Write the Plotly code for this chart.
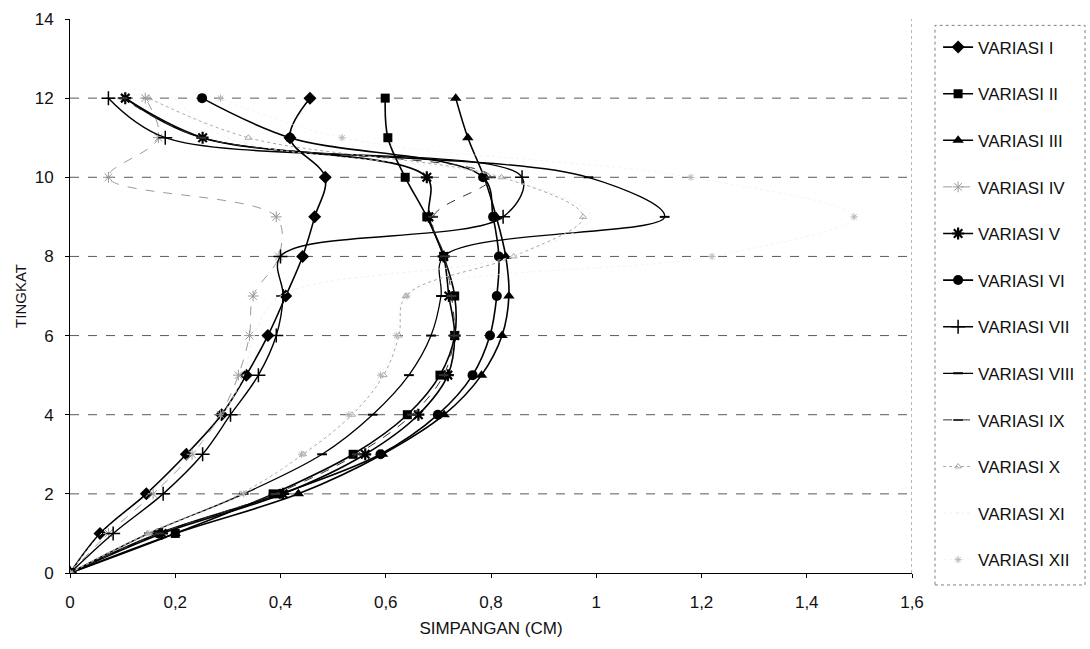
import plotly.graph_objects as go

# Storey levels (TINGKAT) and lateral displacement per variation (SIMPANGAN, cm)
levels = [0, 1, 2, 3, 4, 5, 6, 7, 8, 9, 10, 11, 12]

var_i = [0, 0.057, 0.145, 0.221, 0.288, 0.335, 0.376, 0.410, 0.442, 0.465, 0.485, 0.418, 0.456]
var_ii = [0, 0.200, 0.386, 0.538, 0.641, 0.703, 0.731, 0.731, 0.710, 0.678, 0.637, 0.604, 0.599]
var_iii = [0, 0.200, 0.434, 0.594, 0.711, 0.782, 0.821, 0.834, 0.828, 0.810, 0.787, 0.756, 0.733]
var_iv = [0, 0.073, 0.158, 0.232, 0.286, 0.320, 0.341, 0.348, 0.397, 0.392, 0.073, 0.168, 0.143]
var_v = [0, 0.175, 0.405, 0.561, 0.662, 0.718, 0.731, 0.720, 0.710, 0.682, 0.678, 0.252, 0.105]
var_vi = [0, 0.168, 0.400, 0.590, 0.699, 0.765, 0.798, 0.811, 0.815, 0.804, 0.785, 0.418, 0.251]
var_vii = [0, 0.082, 0.177, 0.252, 0.305, 0.358, 0.392, 0.405, 0.400, 0.823, 0.859, 0.181, 0.073]
var_viii = [0, 0.150, 0.330, 0.479, 0.575, 0.644, 0.686, 0.705, 0.710, 1.130, 0.985, 0.250, 0.105]
var_ix = [0, 0.170, 0.390, 0.545, 0.650, 0.710, 0.730, 0.725, 0.712, 0.690, 0.800, 0.250, 0.100]
var_x = [0, 0.147, 0.324, 0.443, 0.536, 0.596, 0.625, 0.638, 0.843, 0.975, 0.820, 0.339, 0.150]
var_xi = [0, 0.060, 0.150, 0.230, 0.290, 0.330, 0.350, 0.400, 0.840, 0.990, 0.820, 0.300, 0.200]
var_xii = [0, 0.150, 0.330, 0.440, 0.530, 0.590, 0.620, 0.640, 1.220, 1.490, 1.180, 0.517, 0.286]

series_names = ["VARIASI I", "VARIASI II", "VARIASI III", "VARIASI IV", "VARIASI V",
                "VARIASI VI", "VARIASI VII", "VARIASI VIII", "VARIASI IX", "VARIASI X",
                "VARIASI XI", "VARIASI XII"]
series_values = [var_i, var_ii, var_iii, var_iv, var_v, var_vi, var_vii, var_viii,
                 var_ix, var_x, var_xi, var_xii]

x_ticks = [0, 0.2, 0.4, 0.6, 0.8, 1.0, 1.2, 1.4, 1.6]
y_ticks = [0, 2, 4, 6, 8, 10, 12, 14]

FONT = "Liberation Sans, Arial, sans-serif"

# (line colour, marker colour, line width, dash, marker symbol, marker size, marker line width)
styles = [
    ("#000000", "#000000", 1.6, "solid", "diamond", 10, 0),
    ("#000000", "#000000", 1.6, "solid", "square", 9, 0),
    ("#000000", "#000000", 1.6, "solid", "triangle-up", 10, 0),
    ("#9a9a9a", "#9a9a9a", 1.0, "dash", "asterisk-open", 9, 1),
    ("#000000", "#000000", 1.6, "solid", "asterisk-open", 10, 2.2),
    ("#000000", "#000000", 1.6, "solid", "circle", 10, 0),
    ("#000000", "#000000", 1.4, "solid", "cross-thin-open", 10, 1.5),
    ("#000000", "#000000", 1.3, "solid", "line-ew-open", 7, 2),
    ("#333333", "#333333", 1.0, "dash", "line-ew-open", 7, 2),
    ("#a8a8a8", "#a8a8a8", 1.0, "dot", "triangle-up-open", 6, 1),
    ("#ececec", "#ececec", 0.8, "dot", "circle", 1, 0),
    ("#ececec", "#b5b5b5", 0.6, "dot", "asterisk-open", 6, 1),
]

fig = go.Figure()
for name, vals, (col, mcol, lw, dash, sym, ms, mlw) in zip(series_names, series_values, styles):
    fig.add_trace(go.Scatter(
        x=vals, y=levels, name=name, legendgroup=name,
        mode="lines+markers",
        line=dict(color=col, width=lw, dash=dash, shape="spline", smoothing=1.0),
        marker=dict(symbol=sym, size=ms, color=mcol, line=dict(color=mcol, width=mlw)),
    ))

# Horizontal dashed grid lines
for yv in y_ticks[1:-1]:
    fig.add_shape(type="line", xref="x", yref="y", x0=0, x1=1.6, y0=yv, y1=yv,
                  line=dict(color="#5a5a5a", width=1, dash="dash"), layer="below")

# Right edge of the plot area
fig.add_shape(type="line", xref="x", yref="y", x0=1.6, x1=1.6, y0=0, y1=14,
              line=dict(color="#707070", width=1, dash="dot"), layer="below")

# Dashed frame around the legend
fig.add_shape(type="rect", xref="paper", yref="paper",
              x0=1.0273, x1=1.2055, y0=-0.0216, y1=0.9885,
              line=dict(color="#808080", width=1, dash="dot"))

fig.update_layout(
    width=1090, height=649,
    margin=dict(l=70, r=178, t=19, b=76, autoexpand=False),
    paper_bgcolor="white", plot_bgcolor="white",
    separators=",.",
    font=dict(family=FONT, color="#111111", size=17),
    showlegend=True,
    legend=dict(
        x=1.031, xanchor="left", y=0.981, yanchor="top",
        font=dict(family=FONT, size=17, color="#111111"),
        traceorder="grouped", tracegroupgap=21.5, itemwidth=30,
        bgcolor="rgba(0,0,0,0)", maxheight=640,
    ),
)

fig.update_xaxes(
    range=[0, 1.6], tickvals=x_ticks, showgrid=False, zeroline=False,
    showline=True, linecolor="#000000", linewidth=1,
    ticks="outside", ticklen=4, tickcolor="#000000",
    ticklabelstandoff=10,
    tickfont=dict(family=FONT, size=17),
    title=dict(text="SIMPANGAN (CM)", font=dict(family=FONT, size=17), standoff=10),
)
fig.update_yaxes(
    range=[0, 14], tickvals=y_ticks, showgrid=False, zeroline=False,
    showline=True, linecolor="#000000", linewidth=1,
    ticks="outside", ticklen=4, tickcolor="#000000",
    ticklabelstandoff=8,
    tickfont=dict(family=FONT, size=17),
    title=dict(text="TINGKAT", font=dict(family=FONT, size=15), standoff=4),
)

fig.write_html("out.html")
